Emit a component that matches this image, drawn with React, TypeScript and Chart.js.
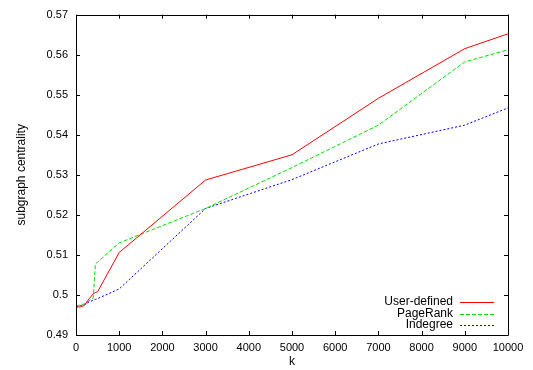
import React, { useEffect, useRef } from "react";
import { Chart, registerables } from "chart.js";

Chart.register(...registerables);

const kValues = [0, 100, 200, 300, 400, 450, 500, 1000, 3000, 5000, 7000, 9000, 10000];
const userDefined = [0.497, 0.497, 0.4974, 0.499, 0.5003, 0.5006, 0.5008, 0.5106, 0.5287, 0.535, 0.5491, 0.5615, 0.5652];
const pageRank = [0.4972, 0.4975, 0.4978, 0.4985, 0.4993, 0.5078, 0.5082, 0.513, 0.5216, 0.5318, 0.5424, 0.5582, 0.5612];
const indegree = [0.497, 0.4973, 0.4977, 0.4982, 0.4987, 0.4989, 0.4991, 0.5015, 0.5216, 0.5288, 0.5377, 0.5424, 0.5467];
const seriesNames = ["User-defined", "PageRank", "Indegree"];
const seriesColors = ["#ff0000", "#00e000", "#0000ff"];
const seriesDashes = [[], [4, 2], [2, 2]];
const xTicks = [0, 1000, 2000, 3000, 4000, 5000, 6000, 7000, 8000, 9000, 10000];
const yTicks = [0.49, 0.5, 0.51, 0.52, 0.53, 0.54, 0.55, 0.56, 0.57];

const FONT = "'Liberation Sans', Arial, sans-serif";

const framePlugin = {
  id: "frame",
  afterDraw(chart: any) {
    const { ctx, chartArea } = chart;
    const { left, right, top, bottom } = chartArea;
    const xs = chart.scales.x;
    const ys = chart.scales.y;
    ctx.save();
    ctx.strokeStyle = "#000";
    ctx.lineWidth = 1;
    ctx.setLineDash([]);
    ctx.beginPath();
    ctx.rect(Math.round(left) + 0.5, Math.round(top) + 0.5, Math.round(right - left), Math.round(bottom - top));
    ctx.stroke();
    const t = 4;
    ctx.beginPath();
    for (const v of xTicks) {
      const px = Math.round(xs.getPixelForValue(v)) + 0.5;
      ctx.moveTo(px, bottom);
      ctx.lineTo(px, bottom - t);
      ctx.moveTo(px, top);
      ctx.lineTo(px, top + t);
    }
    for (const v of yTicks) {
      const py = Math.round(ys.getPixelForValue(v)) + 0.5;
      ctx.moveTo(left, py);
      ctx.lineTo(left + t, py);
      ctx.moveTo(right, py);
      ctx.lineTo(right - t, py);
    }
    ctx.stroke();

    // axis titles
    ctx.fillStyle = "#000";
    ctx.font = `12px ${FONT}`;
    ctx.textAlign = "center";
    ctx.textBaseline = "middle";
    ctx.fillText("k", (left + right) / 2, 362);
    ctx.save();
    ctx.translate(22, (top + bottom) / 2);
    ctx.rotate(-Math.PI / 2);
    ctx.fillText("subgraph centrality", 0, 0);
    ctx.restore();

    // legend
    const rows = [302, 314, 325];
    seriesNames.forEach((name, i) => {
      const y = rows[i];
      ctx.textAlign = "right";
      ctx.fillStyle = "#000";
      ctx.fillText(name, 453, y);
      ctx.strokeStyle = seriesColors[i];
      ctx.lineWidth = 1;
      ctx.setLineDash(seriesDashes[i]);
      ctx.beginPath();
      ctx.moveTo(460, y + 0.5);
      ctx.lineTo(494, y + 0.5);
      ctx.stroke();
    });
    ctx.restore();
  },
};

export default function App() {
  const ref = useRef<HTMLCanvasElement>(null);
  useEffect(() => {
    const mk = (vals: number[]) => kValues.map((k, i) => ({ x: k, y: vals[i] }));
    const series = [userDefined, pageRank, indegree];
    const chart = new Chart(ref.current!, {
      type: "line",
      data: {
        datasets: series.map((vals, i) => ({
          label: seriesNames[i],
          data: mk(vals),
          borderColor: seriesColors[i],
          borderWidth: 1,
          borderDash: seriesDashes[i],
          pointRadius: 0,
          tension: 0,
          fill: false,
        })),
      },
      options: {
        animation: false,
        responsive: false,
        maintainAspectRatio: false,
        layout: { padding: { top: 13, right: 25, left: 0, bottom: 0 } },
        plugins: { legend: { display: false }, tooltip: { enabled: false } },
        scales: {
          x: {
            type: "linear",
            min: 0,
            max: 10000,
            grid: { display: false, drawTicks: false },
            border: { display: false },
            afterFit: (s: any) => { s.height = 35; },
            afterBuildTicks: (s: any) => { s.ticks = xTicks.map((v) => ({ value: v })); },
            ticks: { color: "#000", font: { family: FONT, size: 11 }, padding: 6, maxRotation: 0, autoSkip: false, callback: (v: any) => String(v) },
          },
          y: {
            type: "linear",
            min: 0.49,
            max: 0.57,
            grid: { display: false, drawTicks: false },
            border: { display: false },
            afterFit: (s: any) => { s.width = 76; },
            afterBuildTicks: (s: any) => { s.ticks = yTicks.map((v) => ({ value: v })); },
            ticks: { color: "#000", font: { family: FONT, size: 11 }, padding: 8, autoSkip: false, callback: (v: any) => String(Math.round(v * 100) / 100) },
          },
        },
      },
      plugins: [framePlugin],
    });
    return () => chart.destroy();
  }, []);
  return (
    <div style={{ position: "fixed", left: 0, top: 0, width: 533, height: 370, background: "#fff" }}>
      <canvas ref={ref} width={533} height={370} style={{ width: 533, height: 370 }} />
    </div>
  );
}
